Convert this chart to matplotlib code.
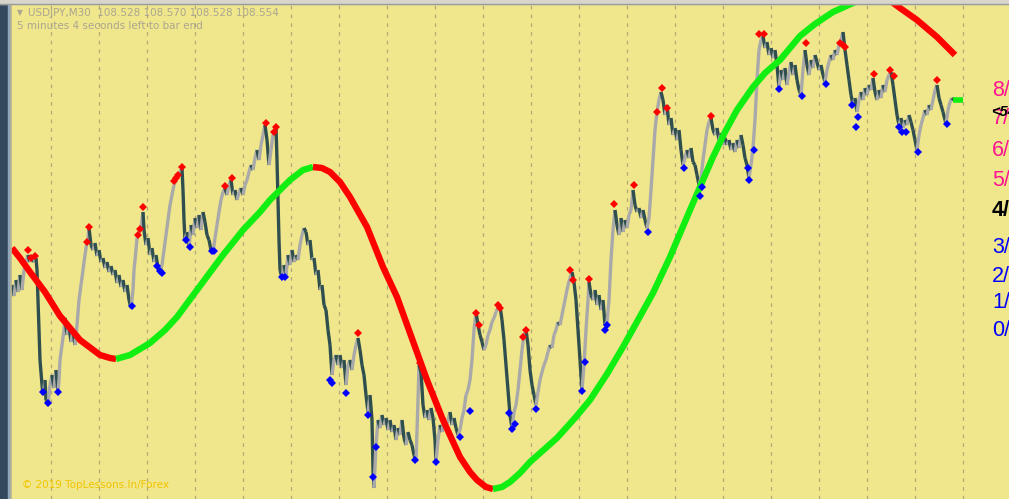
import numpy as np
import matplotlib
matplotlib.use("Agg")
import matplotlib.pyplot as plt
from matplotlib.collections import LineCollection
from matplotlib.patches import Rectangle

# price path (bar position, screen y of close)
price_pts = [
    (12,285),(14,296),(16,280),(18,292),(20,275),(22,290),(24,270),(26,262),(28,255),(30,262),
    (32,258),(34,262),(36,258),(37,270),(38,300),(39,330),(40,360),(42,385),(43,395),(45,380),
    (46,400),(48,405),(50,385),(52,375),(54,388),(56,370),(58,392),(59,380),(60,360),(62,345),
    (64,330),(65,318),(67,335),(69,325),(71,342),(73,330),(75,345),(77,325),(79,300),(81,285),
    (83,270),(85,255),(87,242),(88,238),(89,228),(91,245),(93,250),(95,243),(97,256),(99,250),
    (101,262),(103,258),(105,268),(107,262),(109,272),(111,266),(113,275),(115,270),(117,283),(119,275),
    (121,287),(123,280),(125,292),(127,285),(129,300),(131,308),(133,290),(134,270),(136,250),(137,238),
    (139,232),(141,228),(143,212),(144,230),(146,245),(148,238),(150,255),(152,248),(154,262),(156,255),
    (158,268),(160,272),(162,265),(164,250),(166,235),(168,220),(170,205),(172,195),(174,185),(176,180),
    (178,176),(180,172),(182,168),(183,190),(184,220),(185,240),(187,232),(189,248),(191,225),(193,235),
    (195,218),(197,228),(199,215),(201,230),(203,212),(205,222),(207,235),(209,240),(211,250),(213,252),
    (215,238),(217,225),(219,212),(221,200),(223,192),(225,188),(227,195),(229,185),(231,180),(233,195),
    (235,190),(237,200),(239,192),(241,188),(243,195),(245,185),(247,180),(249,172),(251,165),(253,170),
    (255,158),(257,150),(259,160),(261,145),(263,135),(265,125),(267,140),(269,165),(271,150),(273,135),
    (275,130),(276,126),(277,160),(278,200),(279,240),(280,270),(282,278),(284,265),(286,275),(288,255),
    (290,265),(292,250),(294,262),(296,255),(298,260),(300,245),(302,235),(304,228),(306,232),(308,245),
    (310,240),(312,260),(314,258),(316,275),(318,270),(320,290),(322,285),(324,305),(326,310),(328,330),
    (330,345),(332,375),(334,360),(336,355),(338,365),(340,355),(342,368),(344,360),(346,385),(348,365),
    (350,360),(352,370),(354,355),(356,345),(358,338),(360,350),(362,365),(364,375),(366,395),(368,412),
    (370,395),(372,420),(373,470),(374,488),(376,445),(378,420),(380,428),(382,415),(384,425),(386,418),
    (388,430),(390,420),(392,432),(394,425),(396,440),(398,428),(400,435),(402,420),(404,438),(406,445),
    (408,432),(410,440),(412,445),(414,455),(416,462),(418,400),(419,365),(421,372),(423,405),(425,418),
    (427,410),(429,420),(431,408),(433,418),(435,440),(436,462),(438,440),(440,425),(442,432),(444,418),
    (446,428),(448,420),(450,412),(452,425),(454,418),(456,428),(458,435),(460,430),(462,418),(464,410),
    (466,395),(468,390),(470,380),(472,360),(474,330),(476,312),(478,325),(480,335),(482,342),(484,350),
    (486,345),(488,335),(490,330),(492,322),(494,318),(496,312),(498,308),(500,306),(502,320),(504,340),
    (506,365),(508,390),(510,415),(512,428),(514,412),(516,405),(518,390),(520,370),(522,350),(524,335),
    (526,330),(528,345),(530,370),(532,385),(534,395),(536,405),(538,392),(540,380),(542,372),(544,365),
    (546,360),(548,352),(550,345),(552,348),(554,335),(556,330),(558,322),(560,325),(562,315),(564,305),
    (566,295),(568,285),(570,278),(572,272),(574,282),(576,300),(578,330),(580,360),(582,390),(584,365),
    (586,330),(588,300),(589,282),(591,295),(593,300),(595,290),(597,305),(599,295),(601,310),(603,300),
    (605,325),(607,322),(609,300),(611,260),(613,230),(615,210),(617,225),(619,235),(621,218),(623,232),
    (625,220),(627,228),(629,215),(631,210),(633,190),(635,205),(637,212),(639,208),(641,218),(643,210),
    (645,220),(647,228),(649,218),(651,190),(653,160),(655,130),(657,112),(659,100),(661,92),(663,100),
    (665,115),(667,105),(669,125),(671,118),(673,135),(675,128),(677,140),(679,130),(681,150),(683,165),
    (685,158),(687,150),(689,158),(691,148),(693,162),(695,165),(697,175),(699,185),(701,178),(703,160),
    (705,145),(707,130),(709,122),(711,118),(713,130),(715,135),(717,128),(719,140),(721,133),(723,145),
    (725,138),(727,145),(729,140),(731,150),(733,143),(735,152),(737,140),(739,148),(741,135),(743,145),
    (745,158),(747,165),(749,178),(751,165),(753,148),(755,120),(757,80),(759,50),(761,40),(763,36),
    (765,48),(767,42),(769,55),(771,48),(773,58),(775,50),(777,65),(779,88),(781,70),(783,80),
    (785,68),(787,85),(789,72),(791,62),(793,75),(795,65),(797,80),(799,90),(801,95),(803,70),
    (805,50),(807,65),(809,75),(811,60),(813,68),(815,55),(817,62),(819,70),(821,65),(823,75),
    (825,82),(827,70),(829,62),(831,55),(833,60),(835,50),(837,55),(839,45),(841,40),(843,32),
    (845,50),(847,65),(849,80),(851,95),(853,105),(855,98),(857,112),(859,100),(861,92),(863,100),
    (865,88),(867,95),(869,85),(871,90),(873,78),(875,92),(877,100),(879,90),(881,98),(883,85),
    (885,92),(887,80),(889,75),(891,72),(893,85),(895,100),(897,115),(899,125),(901,118),(903,128),
    (905,120),(907,125),(909,115),(911,122),(913,130),(915,140),(917,150),(919,135),(921,125),(923,118),
    (925,110),(927,115),(929,105),(931,110),(933,100),(935,90),(937,85),(939,98),(941,105),(943,112),
    (945,120),(946,124),(948,110),(950,102),(952,98),(954,100),
]

# fractal arrows
highs = [(28,250),(31,258),(35,256),(62,318),(87,242),(89,227),(138,235),(140,229),(143,207),
         (174,181),(176,178),(178,175),(182,167),(225,186),(232,178),(266,123),(274,132),(276,127),
         (358,333),(420,363),(476,313),(479,325),(498,305),(500,308),(523,337),(526,330),(570,270),
         (573,280),(589,279),(614,204),(634,185),(657,112),(662,88),(667,108),(711,116),(759,34),
         (764,34),(806,43),(840,43),(843,45),(845,47),(874,74),(890,70),(894,76),(937,80)]
lows = [(43,392),(48,403),(58,392),(132,306),(157,266),(160,271),(162,273),(186,240),(190,247),
        (212,251),(214,251),(282,277),(285,277),(330,380),(332,383),(346,393),(368,415),(373,477),
        (376,447),(415,460),(436,462),(460,437),(470,411),(509,413),(512,429),(515,424),(536,409),
        (582,391),(585,362),(605,330),(607,325),(648,232),(684,168),(700,196),(702,187),(748,168),
        (749,180),(754,150),(779,89),(802,96),(826,84),(852,105),(856,127),(858,117),(899,127),
        (902,132),(906,132),(918,152),(947,124)]

# trend curve, split where colour flips
curve_down1 = [(12,248),(20,258),(30,272),(45,292),(60,316),(80,340),(100,355),(110,358),(116,359)]
curve_up1 = [(116,359),(130,355),(150,343),(165,330),(177,317),(197,290),(223,255),(243,230),(260,212),
             (270,200),(290,180),(303,170),(313,167)]
curve_down2 = [(313,167),(322,168),(330,172),(340,182),(350,197),(367,227),(383,267),(397,297),(410,333),
               (427,380),(443,420),(460,457),(470,472),(477,480),(486,487),(493,489)]
curve_up2 = [(493,489),(502,487),(510,482),(520,473),(530,462),(557,438),(575,418),(590,400),(607,374),
             (623,347),(638,320),(653,293),(670,257),(690,210),(713,157),(725,132),(737,110),(753,87),
             (765,73),(780,60),(800,36),(815,24),(833,12),(853,3),(868,-3)]
curve_down3 = [(885,-3),(900,8),(917,20),(937,37),(955,55)]

murrey_labels = ["8/8", "7/8", "6/8", "5/8", "4/8", "3/8", "2/8", "1/8", "0/8"]
murrey_y = [90, 118, 150, 180, 211, 247, 276, 302, 331]
murrey_colors = ["#ff1493"] * 4 + ["black"] + ["#0000ff"] * 4

khaki = "#f0e68c"
fig = plt.figure(figsize=(10.09, 4.99), dpi=100, facecolor=khaki)
ax = fig.add_axes([0, 0, 1, 1])
ax.set_facecolor(khaki)
ax.set_xlim(0, 1009)
ax.set_ylim(499, 0)
ax.axis("off")

# vertical dashed grid
for gx in np.arange(51, 970, 48):
    ax.axvline(gx, color="#b3a978", lw=0.9, ls=(0, (3, 4)), zorder=1)

# bars: up moves grey, down moves dark slate
px = np.array([p[0] for p in price_pts], float)
py = np.array([p[1] for p in price_pts], float)
segs = [[(px[i], py[i]), (px[i + 1], py[i + 1])] for i in range(len(px) - 1)]
cols = ["#a9a9a9" if py[i + 1] < py[i] else "#2f4f4f" for i in range(len(px) - 1)]
ax.add_collection(LineCollection(segs, colors=cols, linewidths=2.4, zorder=3))

for pts, c in [(curve_down1, "#ff0000"), (curve_up1, "#11ee11"), (curve_down2, "#ff0000"),
               (curve_up2, "#11ee11"), (curve_down3, "#ff0000")]:
    cx, cy = zip(*pts)
    ax.plot(cx, cy, color=c, lw=4.6, solid_capstyle="butt", solid_joinstyle="round", zorder=4)

hx, hy = zip(*highs)
lx, ly = zip(*lows)
ax.plot(hx, hy, "D", color="#ff0000", ms=4.5, mew=0, zorder=5)
ax.plot(lx, ly, "D", color="#0000ff", ms=4.5, mew=0, zorder=5)

# current price marker
ax.plot([953, 963], [100, 100], color="#11ee11", lw=4, solid_capstyle="butt", zorder=5)

for lab, yy, c in zip(murrey_labels, murrey_y, murrey_colors):
    ax.text(992, yy, lab, color=c, fontsize=15.5, va="center", ha="left",
            family="Liberation Sans", fontweight="bold" if c == "black" else "normal", zorder=6)
ax.text(991, 112, "<54", color="black", fontsize=10.5, fontweight="bold", style="italic",
        va="center", ha="left", family="Liberation Sans", zorder=7)

# window frame
ax.add_patch(Rectangle((0, 0), 8, 499, color="#34495e", zorder=8))
ax.add_patch(Rectangle((8, 0), 2, 499, color="#8fa6b8", zorder=8))
ax.axvline(11, color="#b8b294", lw=1.2, zorder=8)
ax.add_patch(Rectangle((0, 0), 1009, 4, color="#d8d6cc", zorder=8))
ax.axhline(4, color="#9a9a9a", lw=1, zorder=8)

ax.text(17, 13, "\u25bc", color="#aaa690", fontsize=5.5, va="center", ha="left", zorder=9)
ax.text(28, 13, "USDJPY,M30  108.528 108.570 108.528 108.554", color="#aaa690",
        fontsize=7.5, va="center", ha="left", family="DejaVu Sans", zorder=9)
ax.text(17, 26, "5 minutes 4 seconds left to bar end", color="#aaa690",
        fontsize=7.5, va="center", ha="left", family="DejaVu Sans", zorder=9)
ax.text(22, 485, "\u00a9 2019 TopLessons.In/Forex", color="#f0c400",
        fontsize=7.5, va="center", ha="left", family="DejaVu Sans", zorder=9)

fig.savefig("out.png", dpi=100, facecolor=khaki)
